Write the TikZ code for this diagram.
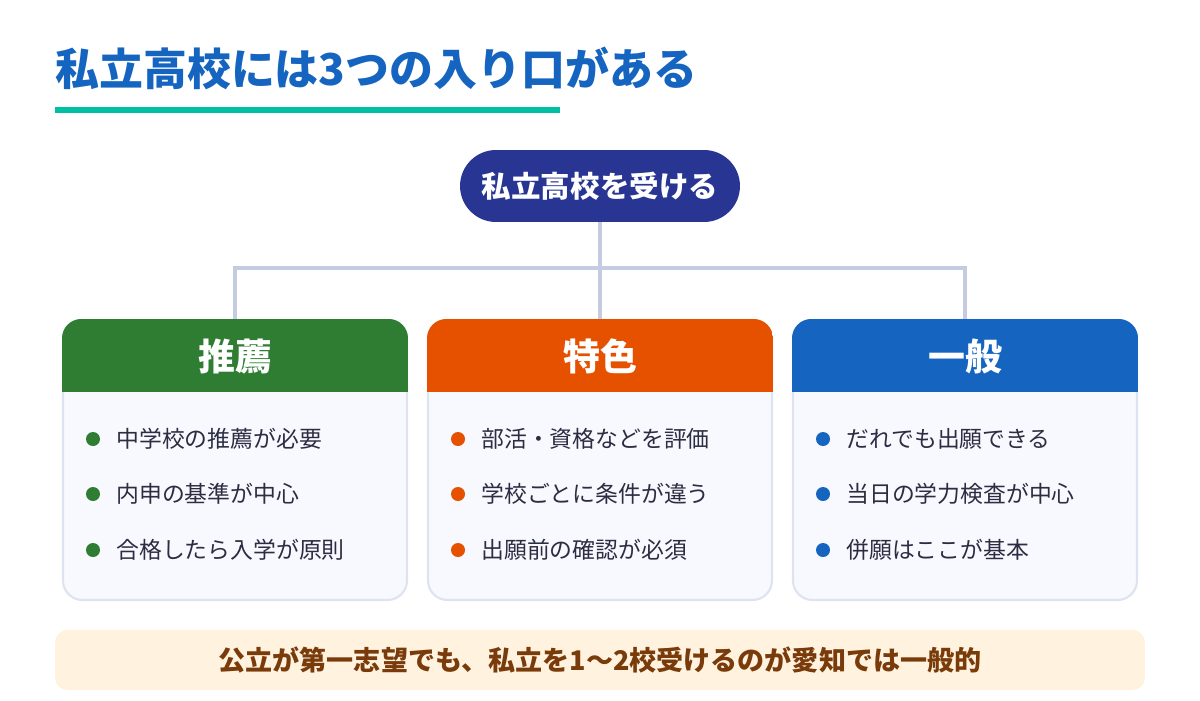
\documentclass[tikz,border=0pt]{standalone}
\usepackage{fontspec}
\setmainfont{Noto Sans CJK JP}
\usepackage{tikz}
\usetikzlibrary{positioning}

\definecolor{titleblue}{HTML}{1565C0}
\definecolor{accentteal}{HTML}{00BFA5}
\definecolor{pillnavy}{HTML}{283593}
\definecolor{suigreen}{HTML}{2E7D32}
\definecolor{tokorange}{HTML}{E65100}
\definecolor{ippblue}{HTML}{1565C0}
\definecolor{cardfill}{HTML}{F8F9FE}
\definecolor{cardline}{HTML}{DDE3F0}
\definecolor{linkgray}{HTML}{C5CBE0}
\definecolor{itemtext}{HTML}{2B2D42}
\definecolor{notefill}{HTML}{FFF3E0}
\definecolor{notetext}{HTML}{7A3B0B}

\tikzset{
    card/.style={draw=cardline, fill=cardfill, line width=1.2pt,
        rounded corners=11pt, minimum width=6.88cm, minimum height=5.6cm},
    headtext/.style={text=white, font=\fontsize{21}{25}\selectfont\bfseries},
    item/.style={anchor=west, inner sep=0, text=itemtext,
        font=\fontsize{13}{16}\selectfont},
    link/.style={draw=linkgray, line width=2.8pt}
}

\begin{document}
\begin{tikzpicture}[x=0.02cm, y=-0.02cm]
\useasboundingbox (0,0) rectangle (1200,700);

% title
\node[anchor=west, inner sep=0, text=titleblue,
    font=\fontsize{25}{30}\selectfont\bfseries] (title) at (55,68) {私立高校には3つの入り口がある};
\fill[accentteal] (55,107) rectangle (560,113);

\node[fill=pillnavy, text=white,
    rounded corners=0.72cm,
    minimum width=5.6cm, minimum height=1.44cm,
    font=\fontsize{16.8}{20}\selectfont\bfseries] (top) at (600,186) {私立高校を受ける};

% cards
\node[card] (c1) at (235,460) {};
\node[card] (c2) at (600,460) {};
\node[card] (c3) at (965,460) {};

\begin{scope}
\clip[rounded corners=11pt] (c1.south west) rectangle (c1.north east);
\fill[suigreen] (c1.north west) rectangle ([yshift=-1.46cm]c1.north east);
\end{scope}
\begin{scope}
\clip[rounded corners=11pt] (c2.south west) rectangle (c2.north east);
\fill[tokorange] (c2.north west) rectangle ([yshift=-1.46cm]c2.north east);
\end{scope}
\begin{scope}
\clip[rounded corners=11pt] (c3.south west) rectangle (c3.north east);
\fill[ippblue] (c3.north west) rectangle ([yshift=-1.46cm]c3.north east);
\end{scope}

\node[headtext] (h1) at (235,356) {推薦};
\node[headtext] (h2) at (600,356) {特色};
\node[headtext] (h3) at (965,356) {一般};

\coordinate (bus) at (600,268);
\draw[link] (top.south) -- (bus);
\draw[link] (c1.north) |- (bus) -| (c3.north);
\draw[link] (bus) -- (c2.north);

% items
\fill[suigreen] (93,439) circle (7);
\fill[suigreen] (93,494) circle (7);
\fill[suigreen] (93,550) circle (7);
\node[item] (i11) at (116,439) {中学校の推薦が必要};
\node[item] (i12) at (116,494) {内申の基準が中心};
\node[item] (i13) at (116,550) {合格したら入学が原則};

\fill[tokorange] (458,439) circle (7);
\fill[tokorange] (458,494) circle (7);
\fill[tokorange] (458,550) circle (7);
\node[item] (i21) at (481,439) {部活・資格などを評価};
\node[item] (i22) at (481,494) {学校ごとに条件が違う};
\node[item] (i23) at (481,550) {出願前の確認が必須};

\fill[ippblue] (823,439) circle (7);
\fill[ippblue] (823,494) circle (7);
\fill[ippblue] (823,550) circle (7);
\node[item] (i31) at (846,439) {だれでも出願できる};
\node[item] (i32) at (846,494) {当日の学力検査が中心};
\node[item] (i33) at (846,550) {併願はここが基本};

% note
\node[fill=notefill, rounded corners=0.24cm,
    minimum width=21.8cm, minimum height=1.2cm,
    text=notetext, font=\fontsize{15.4}{18}\selectfont\bfseries] (note) at (600,660) {公立が第一志望でも、私立を1〜2校受けるのが愛知では一般的};

\end{tikzpicture}
\end{document}
